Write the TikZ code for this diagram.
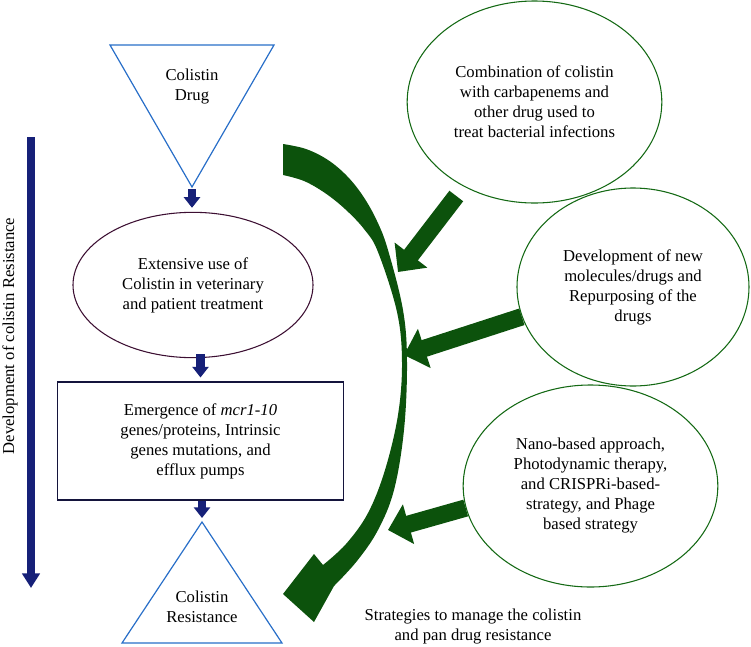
\documentclass[tikz,border=0pt]{standalone}
\usepackage{fontspec}
\setmainfont{Liberation Serif}
\usetikzlibrary{arrows.meta,shapes.geometric}
\definecolor{navyarrow}{RGB}{22,32,120}
\definecolor{darkgreen}{RGB}{12,82,12}
\definecolor{ovalgreen}{RGB}{20,105,20}
\definecolor{triblue}{RGB}{40,110,200}
\definecolor{plum}{RGB}{60,15,50}
\definecolor{boxnavy}{RGB}{20,20,60}
\tikzstyle{txt}=[align=center, inner sep=0pt, font=\fontsize{12.5}{15}\selectfont]
\tikzstyle{strategy}=[ellipse, draw=ovalgreen, line width=0.8pt, align=center, inner sep=0pt, minimum width=191pt, minimum height=151.5pt, font=\fontsize{12.5}{15}\selectfont]
\tikzstyle{usage}=[ellipse, draw=plum, line width=0.8pt, align=center, inner sep=0pt, minimum width=180pt, minimum height=109pt, font=\fontsize{12.5}{15}\selectfont]
\tikzstyle{mech}=[rectangle, draw=boxnavy, line width=0.8pt, align=center, minimum width=215pt, minimum height=88.5pt, font=\fontsize{12.5}{15}\selectfont]
\tikzstyle{tri}=[draw=triblue, line width=0.9pt]
\tikzstyle{stepdown}=[draw=navyarrow, line width=6.5pt, -{Triangle[width=12pt,length=8pt]}]
\tikzstyle{push}=[draw=darkgreen, line width=13pt, -{Triangle[width=30pt,length=16pt]}]
\begin{document}
\begin{tikzpicture}[x=0.75pt,y=-0.75pt]
  \useasboundingbox (0,0) rectangle (751,647);
  % development of resistance
  \draw[tri] (110,45) -- (274,45) -- (192,187) -- cycle;
  \coordinate (drugtip) at (192,187);
  \node[txt] (drug) at (192,87) {Colistin\\Drug};
  \node[usage] (use) at (193,285) {Extensive use of\\Colistin in veterinary\\and patient treatment};
  \node[mech] (mech) at (200.5,441) {Emergence of \textit{mcr1-10}\\genes/proteins, Intrinsic\\genes mutations, and\\efflux pumps};
  \draw[tri] (202,522) -- (282,643) -- (122,643) -- cycle;
  \coordinate (resisttop) at (202,522);
  \node[txt] (resist) at (202,607) {Colistin\\Resistance};

  \draw[stepdown, shorten <=1.5pt, shorten >=3pt] (drugtip) -- (drugtip |- use.north);
  \draw[stepdown, shorten <=-3pt, shorten >=3pt] (use.south -| mech.north) -- (mech.north);
  \draw[stepdown, shorten >=3pt] (mech.south -| resisttop) -- (resisttop);

  \coordinate (devtop) at (31,137);
  \coordinate (devbot) at (31,588);
  \draw[draw=navyarrow, line width=6pt, -{Triangle[width=13pt,length=11pt]}] (devtop) -- (devbot);
  \node[txt, rotate=90] (devlabel) at (10,336) {Development of colistin Resistance};

  % strategies
  \node[strategy] (comb) at (534.5,102) {Combination of colistin\\with carbapenems and\\other drug used to\\treat bacterial infections};
  \node[strategy, minimum width=174pt, minimum height=148.5pt] (dev) at (633,287) {Development of new\\molecules/drugs and\\Repurposing of the\\drugs};
  \node[strategy] (nano) at (590.5,486) {Nano-based approach,\\Photodynamic therapy,\\and CRISPRi-based-\\strategy, and Phage\\based strategy};
  \node[txt] (caption) at (473,627) {Strategies to manage the colistin\\and pan drug resistance};

  % tapered curved arrow
  \fill[darkgreen] plot[smooth, tension=0.6] coordinates {(283,144) (306,149) (328,160) (347,176)
      (363,196) (377,221) (388,250) (403,310) (407,362) (404,430) (394,490) (378,530)
      (357,561) (334,586)}
    -- (314,622) -- (283,594) -- (314,554)
    -- plot[smooth, tension=0.6] coordinates {(323,565) (346,544) (368,513) (385,470)
      (398,415) (402,362) (397,312) (378,252) (364,229) (345,209) (325,193) (304,181) (283,175)}
    -- cycle;
  \coordinate (c1) at (398,272);
  \coordinate (c2) at (404,355);
  \coordinate (c3) at (388,530);
  \draw[push, shorten <=9pt] (comb.230) -- (c1);
  \draw[push] (dev.195) -- (c2);
  \draw[push] (nano.190) -- (c3);
\end{tikzpicture}
\end{document}
